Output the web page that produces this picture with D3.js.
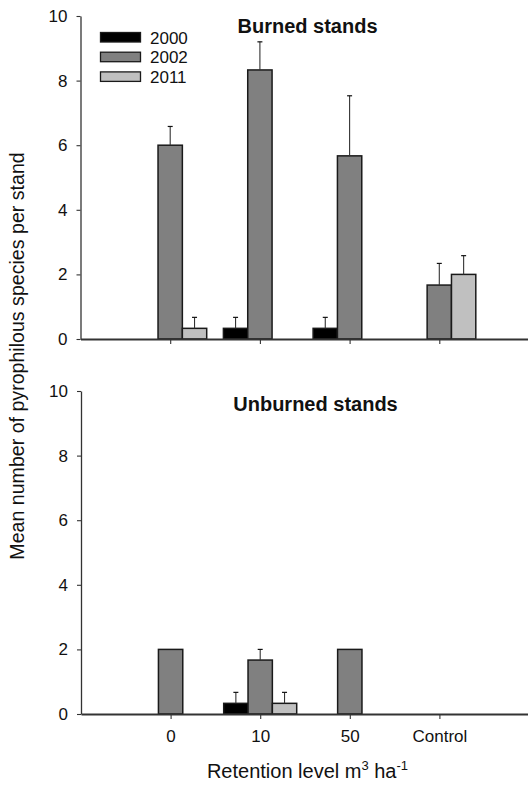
<!DOCTYPE html>
<html>
<head>
<meta charset="utf-8">
<script src="https://cdn.jsdelivr.net/npm/d3@7"></script>
<style>
  html, body { margin: 0; padding: 0; background: #fff; }
  svg { display: block; font-family: "Liberation Sans", Arial, sans-serif; }
</style>
</head>
<body>
<svg id="chart" width="528" height="787"></svg>
<script>
// Retention levels (x categories) and sampling years (series)
const categories = ["0", "10", "50", "Control"];
const years = ["2000", "2002", "2011"];
const yTicks = [0, 2, 4, 6, 8, 10];

// Burned stands: means and standard errors per retention level
const burned2000 = [0, 0.33, 0.33, 0];
const burned2002 = [6.0, 8.33, 5.67, 1.67];
const burned2011 = [0.33, 0, 0, 2.0];
const burnedSE2000 = [0, 0.34, 0.34, 0];
const burnedSE2002 = [0.58, 0.87, 1.86, 0.67];
const burnedSE2011 = [0.34, 0, 0, 0.58];

// Unburned stands: means and standard errors per retention level
const unburned2000 = [0, 0.33, 0, 0];
const unburned2002 = [2.0, 1.67, 2.0, 0];
const unburned2011 = [0, 0.33, 0, 0];
const unburnedSE2000 = [0, 0.34, 0, 0];
const unburnedSE2002 = [0, 0.33, 0, 0];
const unburnedSE2011 = [0, 0.34, 0, 0];

const colors = { "2000": "#000000", "2002": "#808080", "2011": "#c0c0c0" };
const edge = "#1a1a1a";

const svg = d3.select("#chart");

function rows(means, ses) {
  const out = [];
  years.forEach((yr, s) => {
    categories.forEach((c, i) => {
      out.push({ year: yr, cat: i, value: means[s][i], se: ses[s][i] });
    });
  });
  return out;
}

function panel(opts) {
  const g = svg.append("g");
  const x = d3.scaleLinear().domain([0, 5]).range([opts.left, 529]);
  const y = d3.scaleLinear().domain([0, 10]).range([opts.bottom, opts.top]);
  const offset = d3.scaleBand().domain(years).range([-36.5, 36.5]).padding(0);

  const data = rows(opts.means, opts.ses).filter(d => d.value > 0);

  // bars
  g.selectAll("rect.bar").data(data).join("rect")
    .attr("class", "bar")
    .attr("x", d => x(d.cat + 1) + offset(d.year))
    .attr("width", offset.bandwidth())
    .attr("y", d => y(d.value))
    .attr("height", d => y(0) - y(d.value))
    .attr("fill", d => colors[d.year])
    .attr("stroke", edge)
    .attr("stroke-width", 1.5);

  // upper error bars
  const errs = data.filter(d => d.se > 0);
  const cx = d => x(d.cat + 1) + offset(d.year) + offset.bandwidth() / 2;
  g.selectAll("line.err").data(errs).join("line")
    .attr("x1", cx).attr("x2", cx)
    .attr("y1", d => y(d.value)).attr("y2", d => y(d.value + d.se))
    .attr("stroke", "#333").attr("stroke-width", 1.1);
  g.selectAll("line.cap").data(errs).join("line")
    .attr("x1", d => cx(d) - 2.5).attr("x2", d => cx(d) + 2.5)
    .attr("y1", d => y(d.value + d.se)).attr("y2", d => y(d.value + d.se))
    .attr("stroke", "#111").attr("stroke-width", 1.2);

  // y axis
  const ya = g.append("g")
    .attr("transform", `translate(${opts.left},0)`)
    .call(d3.axisLeft(y).tickValues(yTicks).tickSize(4).tickPadding(9).tickSizeOuter(0));
  ya.select(".domain").attr("stroke", "#333").attr("stroke-width", 1.3);
  ya.selectAll(".tick line").attr("stroke", "#333").attr("stroke-width", 1.1);
  ya.selectAll(".tick text").attr("font-size", 17).attr("fill", "#111")
    .attr("font-family", "Liberation Sans, Arial, sans-serif");

  // x axis
  const xa = g.append("g")
    .attr("transform", `translate(0,${opts.bottom})`)
    .call(d3.axisBottom(x).tickValues([1, 2, 3, 4])
      .tickFormat(opts.showLabels ? (d => categories[d - 1]) : () => "")
      .tickSize(5).tickPadding(11).tickSizeOuter(0));
  xa.select(".domain").attr("stroke", "#333").attr("stroke-width", 1.8);
  xa.selectAll(".tick line").attr("stroke", "#333").attr("stroke-width", 1.1);
  xa.selectAll(".tick text").attr("font-size", 17).attr("fill", "#111")
    .attr("font-family", "Liberation Sans, Arial, sans-serif");

  // panel title
  g.append("text")
    .attr("x", opts.titleX).attr("y", opts.titleY)
    .attr("text-anchor", "middle")
    .attr("font-size", 20).attr("font-weight", "bold").attr("fill", "#111")
    .text(opts.title);

  return { x, y };
}

panel({
  title: "Burned stands", titleX: 307.5, titleY: 33,
  left: 80.5, top: 16, bottom: 339, showLabels: false,
  means: [burned2000, burned2002, burned2011],
  ses: [burnedSE2000, burnedSE2002, burnedSE2011]
});

panel({
  title: "Unburned stands", titleX: 315.5, titleY: 411,
  left: 81, top: 391, bottom: 714, showLabels: true,
  means: [unburned2000, unburned2002, unburned2011],
  ses: [unburnedSE2000, unburnedSE2002, unburnedSE2011]
});

// legend
const legend = svg.append("g");
years.forEach((yr, i) => {
  legend.append("rect")
    .attr("x", 100.5).attr("y", 32.5 + i * 19.7)
    .attr("width", 40).attr("height", 9.5)
    .attr("fill", colors[yr]).attr("stroke", edge).attr("stroke-width", 1.3);
  legend.append("text")
    .attr("x", 150).attr("y", 43.5 + i * 19.7)
    .attr("font-size", 17).attr("fill", "#111")
    .text(yr);
});

// axis titles
svg.append("text")
  .attr("transform", "translate(24,356) rotate(-90)")
  .attr("text-anchor", "middle")
  .attr("font-size", 19.6).attr("fill", "#111")
  .text("Mean number of pyrophilous species per stand");

const xt = svg.append("text")
  .attr("x", 307.5).attr("y", 778)
  .attr("text-anchor", "middle")
  .attr("font-size", 20).attr("fill", "#111");
xt.append("tspan").text("Retention level m");
xt.append("tspan").attr("font-size", 13).attr("dy", -8).text("3");
xt.append("tspan").attr("dy", 8).text(" ha");
xt.append("tspan").attr("font-size", 13).attr("dy", -8).text("-1");
</script>
</body>
</html>
